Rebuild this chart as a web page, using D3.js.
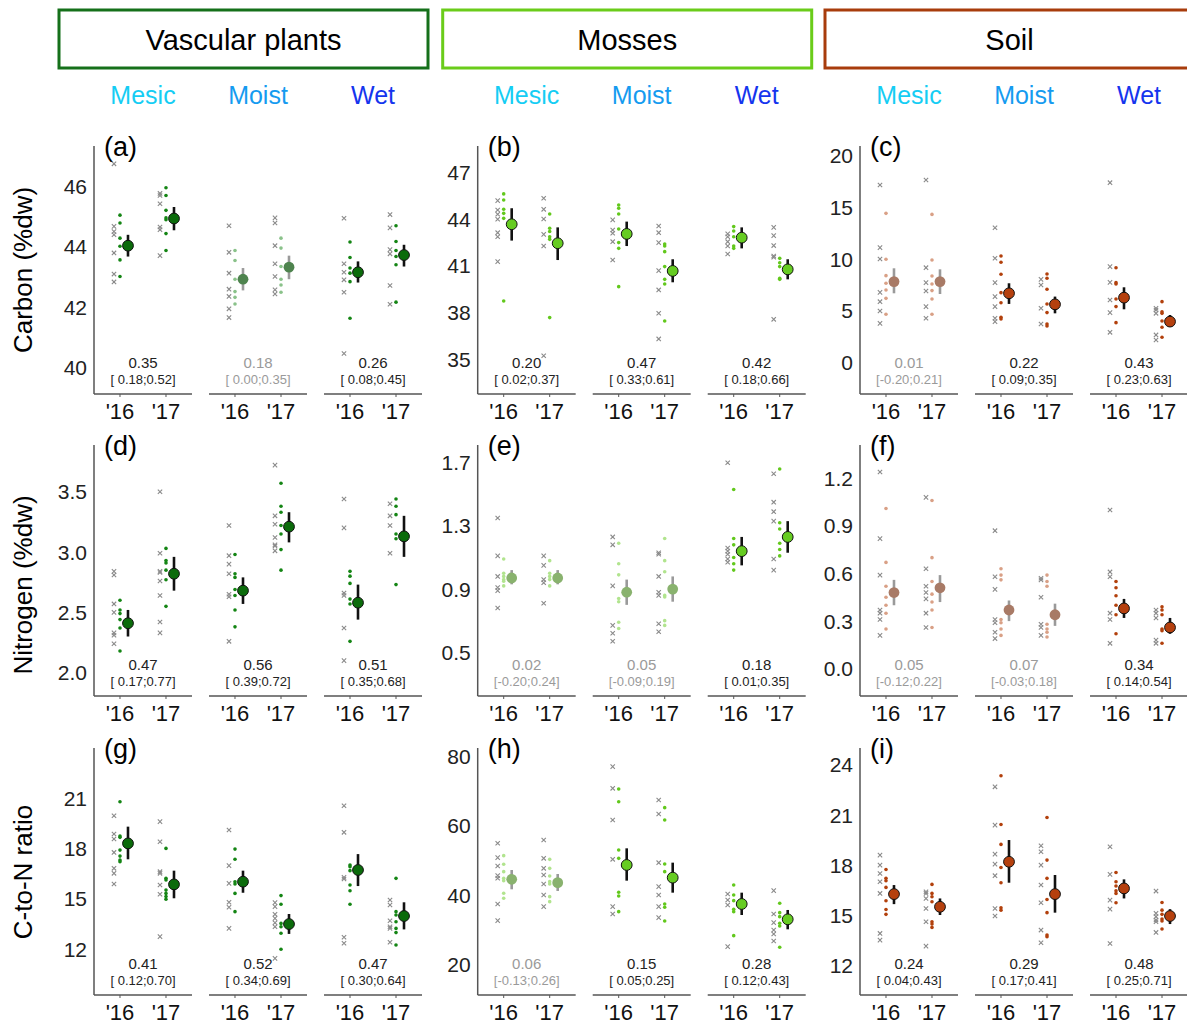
<!DOCTYPE html>
<html>
<head>
<meta charset="utf-8">
<script src="https://cdn.jsdelivr.net/npm/d3@7"></script>
<style>
  body { margin: 0; background: #fff; }
  text { font-family: "Liberation Sans", Arial, sans-serif; }
</style>
</head>
<body>
<svg id="chart" width="1187" height="1025"></svg>
<script>
const groupsTitles = ['Vascular plants', 'Mosses', 'Soil'];
const habitats = ['Mesic', 'Moist', 'Wet'];
const habitatColors = ['#15cdf4', '#159bf0', '#1535ee'];
const years = ["'16", "'17"];
const rowTitles = ['Carbon (%dw)', 'Nitrogen (%dw)', 'C-to-N ratio'];
const panelLetters = ['a', 'b', 'c', 'd', 'e', 'f', 'g', 'h', 'i'];

// y ticks per panel
const yTicks = [
  [40, 42, 44, 46], [35, 38, 41, 44, 47], [0, 5, 10, 15, 20],
  [2.0, 2.5, 3.0, 3.5], [0.5, 0.9, 1.3, 1.7], [0.0, 0.3, 0.6, 0.9, 1.2],
  [12, 15, 18, 21], [20, 40, 60, 80], [12, 15, 18, 21, 24]
];
const yDomains = [
  [39.12, 47.33], [32.75, 48.69], [-3.07, 20.94],
  [1.807, 3.887], [0.223, 1.812], [-0.172, 1.41],
  [9.25, 24.01], [11.13, 82.5], [10.25, 25.01]
];

// order in each panel: Mesic '16, Mesic '17, Moist '16, Moist '17, Wet '16, Wet '17
const aCtrl = [[46.74,44.67,44.50,44.39,43.79,43.09,42.83],[45.76,45.69,45.42,44.65,44.56,43.70],[44.69,43.81,43.12,42.59,42.35,41.94,41.65],[44.95,44.78,44.03,43.43,43.01,42.57,42.43],[44.94,43.43,43.15,42.90,42.49,40.46],[45.06,44.62,43.90,43.76,42.71,42.09]];
const aTrt = [[45.04,44.78,44.28,44.01,43.56,43.01],[45.95,45.69,45.20,44.95,44.89,44.43,43.87],[43.87,43.54,42.92,42.51,42.32,42.10],[44.28,43.95,43.34,42.92,42.73,42.49],[44.15,43.64,43.29,43.12,42.84,41.63],[44.69,44.17,43.87,43.67,43.40,42.16]];
const aMean = [44.03,44.93,42.92,43.32,43.15,43.72];
const aLo = [43.67,44.54,42.55,42.92,42.81,43.34];
const aHi = [44.39,45.31,43.29,43.70,43.51,44.06];

const bCtrl = [[45.18,44.58,44.30,43.98,43.12,42.86,41.26],[45.33,44.62,44.00,43.01,42.26,35.21],[43.94,43.29,43.08,42.54,41.36],[43.55,43.12,42.48,40.68,39.44,37.94,36.29],[43.04,42.86,42.54,42.26,41.75],[43.46,42.93,42.29,41.62,41.54,37.55]];
const bTrt = [[45.61,45.22,44.62,44.36,44.04,38.73],[44.32,43.40,43.19,42.86,42.69,37.66],[44.90,44.69,44.32,43.36,42.48,42.11,39.65],[42.39,42.26,41.90,40.94,40.12,39.82,37.44],[43.51,43.23,42.86,42.26,42.11],[41.47,41.19,40.94,40.19,40.12]];
const bMean = [43.66,42.44,43.04,40.66,42.80,40.76];
const bLo = [42.61,41.36,42.26,39.93,42.11,40.12];
const bHi = [44.69,43.46,43.83,41.41,43.46,41.41];

const cCtrl = [[17.16,11.10,10.0,6.77,5.87,4.97,3.77],[17.65,9.16,7.71,6.90,5.39,4.26],[13.03,10.07,7.71,6.36,5.39,4.26,3.94],[8.03,7.48,5.23,3.71],[17.39,9.26,7.74,6.03,4.81,2.90],[5.23,5.06,4.74,2.65,2.16]];
const cTrt = [[14.42,9.97,8.39,7.65,7.0,6.19,4.65],[14.32,9.90,8.36,7.58,6.94,6.13,4.65],[10.29,9.68,8.52,6.74,5.77,4.36,4.19],[8.55,8.13,7.07,5.65,4.81,3.71,3.52],[9.16,7.71,7.58,6.13,5.39,3.84],[5.87,4.90,4.74,4.0,3.39,2.42]];
const cMean = [7.81,7.81,6.68,5.61,6.26,3.94];
const cLo = [6.68,6.61,5.65,4.74,5.13,3.45];
const cHi = [9.10,9.0,7.65,6.36,7.26,4.58];

const dCtrl = [[2.84,2.81,2.57,2.50,2.33,2.31,2.24],[3.50,2.99,2.84,2.83,2.76,2.64,2.42,2.33],[3.22,2.97,2.90,2.82,2.65,2.63,2.26],[3.72,3.30,3.23,3.12,3.06,3.05,3.01],[3.44,3.20,2.66,2.64,2.37,2.10],[3.40,3.30,3.22,2.99]];
const dTrt = [[2.60,2.52,2.49,2.44,2.37,2.18],[3.03,2.93,2.91,2.85,2.77,2.55],[2.98,2.82,2.79,2.69,2.64,2.52,2.38],[3.57,3.38,3.33,3.22,3.15,3.02,2.85],[2.84,2.80,2.74,2.61,2.57,2.26],[3.44,3.38,3.31,3.15,3.11,2.73]];
const dMean = [2.41,2.82,2.68,3.21,2.58,3.13];
const dLo = [2.30,2.68,2.57,3.08,2.44,2.96];
const dHi = [2.52,2.96,2.79,3.33,2.73,3.30];

const eCtrl = [[1.35,1.11,0.98,0.91,0.89,0.78],[1.11,1.05,0.96,0.94,0.81],[1.23,1.18,0.92,0.67,0.62,0.57],[1.13,1.12,0.98,0.88,0.86,0.68,0.63],[1.70,1.16,1.14,1.12,1.09,1.07],[1.63,1.45,1.39,1.33,1.09,1.02]];
const eTrt = [[1.09,1.00,0.98,0.96,0.95,0.92],[1.08,1.00,0.98,0.96,0.92],[1.19,1.06,0.99,0.84,0.82,0.69,0.65],[1.22,1.08,1.01,0.86,0.85,0.70,0.67],[1.53,1.22,1.18,1.10,1.06,1.02],[1.66,1.32,1.28,1.19,1.15,1.11]];
const eMean = [0.97,0.97,0.88,0.90,1.14,1.23];
const eLo = [0.93,0.93,0.80,0.82,1.05,1.13];
const eHi = [1.02,1.02,0.96,0.98,1.23,1.33];

const fCtrl = [[1.24,0.82,0.59,0.37,0.35,0.31,0.21],[1.08,0.63,0.52,0.48,0.44,0.35,0.26],[0.87,0.58,0.50,0.31,0.29,0.23,0.19],[0.57,0.56,0.45,0.28,0.26,0.21],[1.00,0.61,0.58,0.35,0.31,0.16],[0.37,0.35,0.32,0.18,0.16]];
const fTrt = [[1.01,0.67,0.52,0.45,0.40,0.35,0.25],[1.06,0.70,0.55,0.47,0.42,0.37,0.26],[0.63,0.59,0.56,0.31,0.29,0.25,0.21],[0.59,0.55,0.52,0.28,0.25,0.23,0.20],[0.55,0.51,0.46,0.40,0.34,0.22],[0.39,0.37,0.34,0.25,0.24,0.16]];
const fMean = [0.48,0.51,0.37,0.34,0.38,0.26];
const fLo = [0.40,0.42,0.30,0.27,0.32,0.22];
const fHi = [0.56,0.59,0.43,0.41,0.44,0.32];

const gCtrl = [[19.96,18.87,18.57,17.77,16.82,16.52,15.88],[19.61,18.41,16.62,16.52,15.82,15.27,12.74],[19.11,16.98,15.92,14.79,14.49,13.23],[14.77,14.53,14.07,13.83,13.57,13.33,11.44],[20.56,18.97,16.28,16.18,12.70,12.34],[14.93,14.63,13.69,13.33,13.23,12.40]];
const gTrt = [[20.80,18.75,18.67,17.91,17.55,17.32,17.22],[18.01,16.22,16.12,15.52,15.32,15.13,14.97],[17.97,17.36,16.02,15.88,15.32,14.23],[15.19,14.67,13.53,13.33,12.94,11.98],[17.02,16.92,16.68,15.82,15.48,14.67],[16.22,14.23,14.03,13.63,13.23,12.98,12.24]];
const gMean = [18.31,15.86,16.02,13.49,16.72,13.97];
const gLo = [17.36,15.03,15.36,12.90,15.76,13.17];
const gHi = [19.31,16.68,16.68,14.09,17.67,14.79];

const hCtrl = [[54.96,50.82,48.41,45.62,44.85,37.43,32.62],[55.92,50.62,47.73,45.81,43.21,40.03,36.66],[77.11,70.85,61.70,50.33,36.66,34.54],[67.48,63.43,49.37,42.44,40.03,36.66,33.48],[40.32,38.59,37.14,25.10],[41.28,34.54,32.04,29.92,28.76,26.74]];
const hTrt = [[51.39,48.89,46.77,44.85,44.17,40.51,39.07],[50.33,47.73,45.52,43.88,43.21,39.55,38.10],[70.65,66.99,53.03,50.62,40.80,39.74,35.22],[65.26,61.70,48.99,46.77,37.43,36.47,32.52],[42.92,40.03,38.39,35.89,35.22,28.28],[37.62,34.93,33.77,31.85,31.08,24.91]];
const hMean = [44.56,43.59,48.70,45.04,37.43,33.0];
const hLo = [41.67,41.19,44.17,40.70,34.25,30.11];
const hHi = [47.25,46.10,53.51,49.37,40.70,35.70];

const iCtrl = [[18.61,18.01,17.51,17.02,16.32,13.93,13.53],[16.42,16.32,16.02,15.42,14.63,13.17],[22.69,20.40,18.67,18.07,17.38,15.42,14.97],[19.17,18.81,18.01,16.82,15.76,14.13,13.37],[19.11,17.46,15.92,15.38,13.33],[16.46,15.13,14.93,14.73,14.63,13.99]];
const iTrt = [[17.75,17.22,17.08,16.68,15.88,15.36,15.07],[16.86,16.32,16.12,15.82,14.63,14.49,14.29],[23.35,20.44,19.25,17.87,16.96,15.46,15.32],[20.86,18.31,17.22,15.96,15.17,13.83,13.73],[17.57,17.02,16.76,16.48,16.32,15.76],[15.78,15.32,15.07,14.79,14.67,14.19]];
const iMean = [16.28,15.52,18.21,16.28,16.62,14.97];
const iLo = [15.68,15.03,16.96,15.17,16.02,14.49];
const iHi = [16.82,16.02,19.51,17.42,17.16,15.38];

// effect sizes with confidence intervals, per habitat
const effects = [
  [0.35,0.18,0.26],[0.20,0.47,0.42],[0.01,0.22,0.43],
  [0.47,0.56,0.51],[0.02,0.05,0.18],[0.05,0.07,0.34],
  [0.41,0.52,0.47],[0.06,0.15,0.28],[0.24,0.29,0.48]
];
const effLo = [
  [0.18,0.00,0.08],[0.02,0.33,0.18],[-0.20,0.09,0.23],
  [0.17,0.39,0.35],[-0.20,-0.09,0.01],[-0.12,-0.03,0.14],
  [0.12,0.34,0.30],[-0.13,0.05,0.12],[0.04,0.17,0.25]
];
const effHi = [
  [0.52,0.35,0.45],[0.37,0.61,0.66],[0.21,0.35,0.63],
  [0.77,0.72,0.68],[0.24,0.19,0.35],[0.22,0.18,0.54],
  [0.70,0.69,0.64],[0.26,0.25,0.43],[0.43,0.41,0.71]
];

const panelData = [
  [aCtrl, aTrt, aMean, aLo, aHi], [bCtrl, bTrt, bMean, bLo, bHi], [cCtrl, cTrt, cMean, cLo, cHi],
  [dCtrl, dTrt, dMean, dLo, dHi], [eCtrl, eTrt, eMean, eLo, eHi], [fCtrl, fTrt, fMean, fLo, fHi],
  [gCtrl, gTrt, gMean, gLo, gHi], [hCtrl, hTrt, hMean, hLo, hHi], [iCtrl, iTrt, iMean, iLo, iHi]
];

const boxColors = ['#15701a', '#6acc1a', '#a83c0c'];
const dotColors = ['#148514', '#62c81c', '#b2400c'];
const meanColors = ['#0b6b0b', '#66cc22', '#b5400e'];
// faded versions for non-significant groups
const fadedDot = dotColors.map(c => d3.interpolateRgb(c, '#fff')(0.5));
const fadedMean = meanColors.map((c, i) => d3.interpolateRgb(c, '#a0a0a0')(i === 0 ? 0.45 : 0.6));

// layout
const colX = [94, 477.7, 860];
const rowBase = [394, 696, 995];
const rowTop = [146, 445, 748];
const rowTitleY = [270, 585, 872];

const svg = d3.select('#chart');

const xGroup = d3.scaleBand().domain(habitats).range([0, 328]).paddingInner(0.148).paddingOuter(0);
const xYear = d3.scalePoint().domain(years).range([0, xGroup.bandwidth()]).padding(0.565);

// header boxes
groupsTitles.forEach((t, c) => {
  const x0 = colX[c] - 35;
  svg.append('rect')
    .attr('x', x0).attr('y', 10)
    .attr('width', 369).attr('height', 58)
    .attr('fill', 'none')
    .attr('stroke', boxColors[c])
    .attr('stroke-width', 3)
  svg.append('text')
    .attr('x', x0 + 184.5).attr('y', 50)
    .attr('text-anchor', 'middle')
    .style('font-size', '29px')
    .text(t)
  habitats.forEach((h, k) => {
    svg.append('text')
      .attr('x', colX[c] + xGroup(h) + xGroup.bandwidth() / 2)
      .attr('y', 104)
      .attr('text-anchor', 'middle')
      .style('font-size', '25px')
      .style('fill', habitatColors[k])
      .text(h)
  })
})

// row titles
rowTitles.forEach((t, r) => {
  svg.append('text')
    .attr('transform', `translate(32,${rowTitleY[r]}) rotate(-90)`)
    .attr('text-anchor', 'middle')
    .style('font-size', '26px')
    .text(t)
})

panelData.forEach((pd, p) => {
  const r = Math.floor(p / 3), c = p % 3;
  const [ctrl, trt, mean, lo, hi] = pd;
  const x0 = colX[c];
  const y = d3.scaleLinear().domain(yDomains[p]).range([rowBase[r], rowTop[r]]);
  const g = svg.append('g').attr('transform', `translate(${x0},0)`);

  // y axis
  g.append('line')
    .attr('x1', 0).attr('x2', 0)
    .attr('y1', rowTop[r]).attr('y2', rowBase[r])
    .attr('stroke', '#555').attr('stroke-width', 1.5)
  g.selectAll('.ytick')
    .data(yTicks[p])
    .enter()
    .append('text')
    .attr('x', -7)
    .attr('y', d => y(d))
    .attr('dy', '0.36em')
    .attr('text-anchor', 'end')
    .style('font-size', '21px')
    .style('fill', '#222')
    .text(d => yTicks[p].some(v => v % 1 !== 0) ? d.toFixed(1) : d)

  g.append('text')
    .attr('x', 10).attr('y', rowTop[r] + 10)
    .style('font-size', '27px')
    .text(`(${panelLetters[p]})`)

  habitats.forEach((h, k) => {
    const gx = xGroup(h);
    const sig = effLo[p][k] > 0;
    const ng = g.append('g').attr('transform', `translate(${gx},0)`);

    ng.append('line')
      .attr('x1', 0).attr('x2', xGroup.bandwidth())
      .attr('y1', rowBase[r]).attr('y2', rowBase[r])
      .attr('stroke', '#555').attr('stroke-width', 1.5)

    years.forEach((yr, j) => {
      const idx = k * 2 + j;
      const cx = xYear(yr);

      ng.append('line')
        .attr('x1', cx).attr('x2', cx)
        .attr('y1', rowBase[r]).attr('y2', rowBase[r] + 3)
        .attr('stroke', '#555')
      ng.append('text')
        .attr('x', cx).attr('y', rowBase[r] + 25)
        .attr('text-anchor', 'middle')
        .style('font-size', '22px')
        .style('fill', '#111')
        .text(yr)

      // control (gray crosses)
      ng.selectAll(null)
        .data(ctrl[idx])
        .enter()
        .append('path')
        .attr('d', d3.symbol(d3.symbolX, 14))
        .attr('transform', d => `translate(${cx - 6},${y(d)})`)
        .attr('fill', 'none')
        .attr('stroke', '#8a8a8a')
        .attr('stroke-width', 1.1)

      // treatment (coloured dots)
      ng.selectAll(null)
        .data(trt[idx])
        .enter()
        .append('circle')
        .attr('cx', cx)
        .attr('cy', d => y(d))
        .attr('r', 1.8)
        .attr('fill', sig ? dotColors[c] : fadedDot[c])

      // mean with error bar
      ng.append('line')
        .attr('x1', cx + 8).attr('x2', cx + 8)
        .attr('y1', y(lo[idx])).attr('y2', y(hi[idx]))
        .attr('stroke', sig ? '#111' : '#9a9a9a')
        .attr('stroke-width', 2.6)
      ng.append('circle')
        .attr('cx', cx + 8)
        .attr('cy', y(mean[idx]))
        .attr('r', 5.4)
        .attr('fill', sig ? meanColors[c] : fadedMean[c])
        .attr('stroke', sig ? '#111' : 'none')
        .attr('stroke-width', 1)
    })

    // effect size
    const tc = sig ? '#222' : '#9a9a9a';
    const l = effLo[p][k], u = effHi[p][k];
    ng.append('text')
      .attr('x', xGroup.bandwidth() / 2).attr('y', rowBase[r] - 26)
      .attr('text-anchor', 'middle')
      .style('font-size', '15px')
      .style('fill', tc)
      .text(effects[p][k].toFixed(2))
    ng.append('text')
      .attr('x', xGroup.bandwidth() / 2).attr('y', rowBase[r] - 10)
      .attr('text-anchor', 'middle')
      .style('font-size', '13px')
      .style('fill', tc)
      .text(`[${l < 0 ? '' : ' '}${l.toFixed(2)};${u.toFixed(2)}]`)
  })
})
</script>
</body>
</html>
